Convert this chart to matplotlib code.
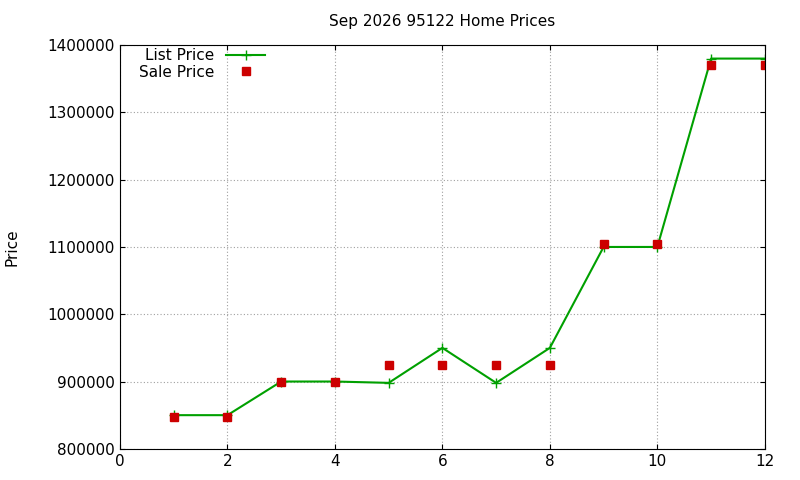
import matplotlib
matplotlib.use("Agg")
import matplotlib.pyplot as plt

months = [1, 2, 3, 4, 5, 6, 7, 8, 9, 10, 11, 12]
list_price = [850000, 850000, 900000, 900000, 898000, 950000, 898000, 950000, 1100000, 1100000, 1380000, 1380000]
sale_price = [847500, 847500, 900000, 900000, 925000, 925000, 925000, 925000, 1104000, 1104000, 1370000, 1370000]

fig = plt.figure(figsize=(8, 4.8), dpi=100)
ax = fig.add_axes([0.15, 0.065, 0.806, 0.841])
ax.plot(months, list_price, color="#00a000", marker="+", markersize=7, lw=1.5, label="List Price")
ax.plot(months, sale_price, color="#cc0000", marker="s", markersize=6, ls="none", label="Sale Price")
ax.set_xlim(0, 12)
ax.set_ylim(800000, 1400000)
ax.set_xticks(range(0, 13, 2))
ax.set_yticks(range(800000, 1400001, 100000))
ax.ticklabel_format(style="plain", axis="y")
ax.grid(True, color="#a0a0a0", ls=(0, (1, 2)), lw=0.8)
ax.tick_params(direction="in", top=True, right=True, labelsize=11)
ax.set_ylabel("Price", fontsize=11, labelpad=20)
ax.set_title("Sep 2026 95122 Home Prices", fontsize=11, pad=14)
ax.legend(loc="upper left", markerfirst=False, frameon=False, fontsize=11,
          borderpad=0.1, handlelength=2.5, labelspacing=0.1, bbox_to_anchor=(0.015, 1.015))
fig.savefig("out.png")
